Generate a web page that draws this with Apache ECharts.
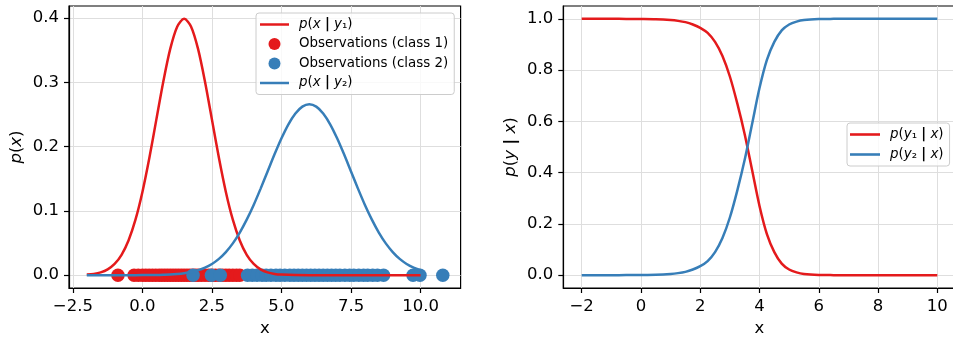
<!DOCTYPE html>
<html>
<head>
<meta charset="utf-8">
<script src="https://cdn.jsdelivr.net/npm/echarts@6/dist/echarts.min.js"></script>
<style>
  html, body { margin: 0; padding: 0; background: #fff; }
  #chart { width: 953px; height: 338px; }
</style>
</head>
<body>
<div id="chart"></div>
<script>
// class-conditional densities (left panel)
const redCurveX = [-2, -1.75, -1.5, -1.25, -1, -0.75, -0.5, -0.25, 0, 0.25, 0.5, 0.75, 1, 1.25, 1.5, 1.75, 2, 2.25, 2.5, 2.75, 3, 3.25, 3.5, 3.75, 4, 4.25, 4.5, 4.75, 5, 5.5, 6, 7, 8, 9, 10];
const redCurveY = [0.0009, 0.002, 0.0044, 0.0091, 0.0175, 0.0317, 0.054, 0.0863, 0.1295, 0.1826, 0.242, 0.3011, 0.3521, 0.3867, 0.3989, 0.3867, 0.3521, 0.3011, 0.242, 0.1826, 0.1295, 0.0863, 0.054, 0.0317, 0.0175, 0.0091, 0.0044, 0.002, 0.0009, 0.0001, 0, 0, 0, 0, 0];
const blueCurveX = [-2, -1.5, -1, -0.5, 0, 0.25, 0.5, 0.75, 1, 1.25, 1.5, 1.75, 2, 2.25, 2.5, 2.75, 3, 3.25, 3.5, 3.75, 4, 4.25, 4.5, 4.75, 5, 5.25, 5.5, 5.75, 6, 6.25, 6.5, 6.75, 7, 7.25, 7.5, 7.75, 8, 8.25, 8.5, 8.75, 9, 9.25, 9.5, 9.75, 10];
const blueCurveY = [0, 0, 0, 0, 0.0001, 0.0002, 0.0003, 0.0006, 0.001, 0.0018, 0.003, 0.0048, 0.0076, 0.0117, 0.0175, 0.0254, 0.036, 0.0495, 0.0663, 0.0864, 0.1093, 0.1347, 0.1613, 0.188, 0.213, 0.2348, 0.2516, 0.2623, 0.266, 0.2623, 0.2516, 0.2348, 0.213, 0.188, 0.1613, 0.1347, 0.1093, 0.0864, 0.0663, 0.0495, 0.036, 0.0254, 0.0175, 0.0117, 0.0076];

// observations, drawn on y = 0
const obsClass1 = [-0.88, -0.3, -0.15, 0.0, 0.12, 0.24, 0.36, 0.48, 0.6, 0.7, 0.8, 0.9, 1.0, 1.1, 1.2, 1.3, 1.4, 1.5, 1.6, 1.7, 1.8, 1.9, 2.0, 2.12, 2.25, 2.38, 2.5, 2.62, 2.75, 2.88, 3.0, 3.12, 3.25, 3.38, 3.5];
const obsClass2 = [1.82, 2.48, 2.8, 3.78, 3.95, 4.12, 4.3, 4.45, 4.62, 4.8, 4.95, 5.12, 5.3, 5.45, 5.6, 5.75, 5.9, 6.05, 6.2, 6.35, 6.5, 6.65, 6.8, 6.95, 7.1, 7.28, 7.45, 7.6, 7.78, 7.95, 8.1, 8.28, 8.45, 8.67, 9.73, 9.98, 10.8];

// posteriors (right panel)
const postX = [-2, -1.5, -1, -0.5, 0, 0.5, 1, 1.25, 1.5, 1.75, 2, 2.25, 2.5, 2.75, 3, 3.25, 3.5, 3.75, 4, 4.25, 4.5, 4.75, 5, 5.25, 5.5, 6, 6.5, 7, 8, 9, 10];
const postY1 = [1, 1, 1, 0.9995, 0.999, 0.998, 0.995, 0.992, 0.987, 0.978, 0.965, 0.945, 0.91, 0.855, 0.775, 0.67, 0.55, 0.41, 0.27, 0.16, 0.09, 0.045, 0.022, 0.011, 0.005, 0.001, 0.0002, 0, 0, 0, 0];
const postY2 = [0, 0, 0, 0.0005, 0.001, 0.002, 0.005, 0.008, 0.013, 0.022, 0.035, 0.055, 0.09, 0.145, 0.225, 0.33, 0.45, 0.59, 0.73, 0.84, 0.91, 0.955, 0.978, 0.989, 0.995, 0.999, 0.9998, 1, 1, 1, 1];

// tick labels
const leftXTicks = [-2.5, 0, 2.5, 5, 7.5, 10];
const leftYTicks = [0, 0.1, 0.2, 0.3, 0.4];
const rightXTicks = [-2, 0, 2, 4, 6, 8, 10];
const rightYTicks = [0, 0.2, 0.4, 0.6, 0.8, 1.0];

const RED = '#e41a1c';
const BLUE = '#377eb8';
const FONT = 'DejaVu Sans';
// flat bar used as legend sample for the curves
const LINE_ICON = 'path://M0,0H29V2.5H0Z';

const pairs = (xs, ys) => xs.map((x, i) => [x, ys[i]]);
const fmt = (d) => (v) => v.toFixed(d).replace('-', '\u2212');

const mathRich = (size) => ({
    i: { fontFamily: FONT, fontStyle: 'italic', fontSize: size, color: '#000' },
    b: { fontFamily: FONT, fontWeight: 'bold', fontSize: size, color: '#000' },
    n: { fontFamily: FONT, fontSize: size, color: '#000' }
});

const legendLabels = {
    'p(x | y1)': '{i|p}{n|(}{i|x}{n| }{b||}{n| }{i|y}{n|\u2081)}',
    'p(x | y2)': '{i|p}{n|(}{i|x}{n| }{b||}{n| }{i|y}{n|\u2082)}',
    'Observations (class 1)': 'Observations (class 1)',
    'Observations (class 2)': 'Observations (class 2)',
    'p(y1 | x)': '{i|p}{n|(}{i|y}{n|\u2081 }{b||}{n| }{i|x}{n|)}',
    'p(y2 | x)': '{i|p}{n|(}{i|y}{n|\u2082 }{b||}{n| }{i|x}{n|)}'
};

function makeAxis (gridIndex, min, max, ticks, digits, name, nameGap) {
    return {
        type: 'value',
        gridIndex: gridIndex,
        min: min,
        max: max,
        name: name,
        nameLocation: 'middle',
        nameGap: nameGap,
        nameTextStyle: { fontFamily: FONT, fontSize: 16.5, color: '#000', rich: mathRich(16.5) },
        axisLine: { show: true, onZero: false, lineStyle: { color: '#000', width: 1.2 } },
        axisTick: { show: true, customValues: ticks, length: 5, lineStyle: { color: '#000', width: 1.2 } },
        axisLabel: {
            customValues: ticks,
            formatter: fmt(digits),
            fontFamily: FONT,
            fontSize: 16.5,
            color: '#000',
            margin: 10
        },
        splitLine: { show: true, lineStyle: { color: '#dedede', width: 1 } }
    };
}

const chart = echarts.init(document.getElementById('chart'), null, { renderer: 'canvas' });

const gridStyle = { show: true, borderColor: '#000', borderWidth: 1.2, backgroundColor: 'transparent', outerBoundsMode: 'none', containLabel: false };

const option = {
    animation: false,
    backgroundColor: '#fff',
    grid: [
        Object.assign({ left: 69, top: 6, width: 391.6, height: 282 }, gridStyle),
        Object.assign({ left: 563.3, top: 6, width: 392.4, height: 282 }, gridStyle)
    ],
    xAxis: [
        makeAxis(0, -2.64, 11.44, leftXTicks, 1, 'x', 25),
        makeAxis(1, -2.621, 10.621, rightXTicks, 0, 'x', 25)
    ],
    yAxis: [
        makeAxis(0, -0.01995, 0.41883, leftYTicks, 1, '{i|p}{n|(}{i|x}{n|)}', 44),
        makeAxis(1, -0.05, 1.05, rightYTicks, 1, '{i|p}{n|(}{i|y}{n| }{b||}{n| }{i|x}{n|)}', 44)
    ],
    legend: [
        {
            data: [
                { name: 'p(x | y1)', icon: LINE_ICON },
                { name: 'Observations (class 1)', icon: 'circle' },
                { name: 'Observations (class 2)', icon: 'circle' },
                { name: 'p(x | y2)', icon: LINE_ICON }
            ],
            orient: 'vertical',
            left: 256,
            top: 13,
            padding: [5, 6, 5, 4],
            itemGap: 6.5,
            itemWidth: 29,
            itemHeight: 12,
            borderColor: '#cccccc',
            borderWidth: 1,
            borderRadius: 3,
            backgroundColor: 'rgba(255,255,255,0.8)',
            formatter: (name) => legendLabels[name],
            textStyle: { fontFamily: FONT, fontSize: 13.4, color: '#000', padding: [0, 0, 0, 5], rich: mathRich(13.4) }
        },
        {
            data: [
                { name: 'p(y1 | x)', icon: LINE_ICON },
                { name: 'p(y2 | x)', icon: LINE_ICON }
            ],
            orient: 'vertical',
            left: 847,
            top: 123,
            padding: [5, 6, 5, 3],
            itemGap: 7,
            itemWidth: 30,
            itemHeight: 12,
            borderColor: '#cccccc',
            borderWidth: 1,
            borderRadius: 3,
            backgroundColor: 'rgba(255,255,255,0.8)',
            formatter: (name) => legendLabels[name],
            textStyle: { fontFamily: FONT, fontSize: 13.4, color: '#000', padding: [0, 0, 0, 5], rich: mathRich(13.4) }
        }
    ],
    series: [
        {
            name: 'Observations (class 1)',
            type: 'scatter',
            xAxisIndex: 0,
            yAxisIndex: 0,
            symbolSize: 13.5,
            itemStyle: { color: RED, opacity: 1 },
            data: obsClass1.map((x) => [x, 0]),
            z: 2
        },
        {
            name: 'Observations (class 2)',
            type: 'scatter',
            xAxisIndex: 0,
            yAxisIndex: 0,
            symbolSize: 13.5,
            itemStyle: { color: BLUE, opacity: 1 },
            data: obsClass2.map((x) => [x, 0]),
            z: 3
        },
        {
            name: 'p(x | y1)',
            type: 'line',
            xAxisIndex: 0,
            yAxisIndex: 0,
            symbol: 'none',
            smooth: 0.3,
            lineStyle: { color: RED, width: 2.5 },
            itemStyle: { color: RED },
            data: pairs(redCurveX, redCurveY),
            z: 4
        },
        {
            name: 'p(x | y2)',
            type: 'line',
            xAxisIndex: 0,
            yAxisIndex: 0,
            symbol: 'none',
            smooth: 0.3,
            lineStyle: { color: BLUE, width: 2.5 },
            itemStyle: { color: BLUE },
            data: pairs(blueCurveX, blueCurveY),
            z: 5
        },
        {
            name: 'p(y1 | x)',
            type: 'line',
            xAxisIndex: 1,
            yAxisIndex: 1,
            symbol: 'none',
            smooth: 0.3,
            lineStyle: { color: RED, width: 2.5 },
            itemStyle: { color: RED },
            data: pairs(postX, postY1),
            z: 4
        },
        {
            name: 'p(y2 | x)',
            type: 'line',
            xAxisIndex: 1,
            yAxisIndex: 1,
            symbol: 'none',
            smooth: 0.3,
            lineStyle: { color: BLUE, width: 2.5 },
            itemStyle: { color: BLUE },
            data: pairs(postX, postY2),
            z: 5
        }
    ]
};

chart.setOption(option);
window.addEventListener('resize', function () {
    chart.resize();
});
</script>
</body>
</html>
